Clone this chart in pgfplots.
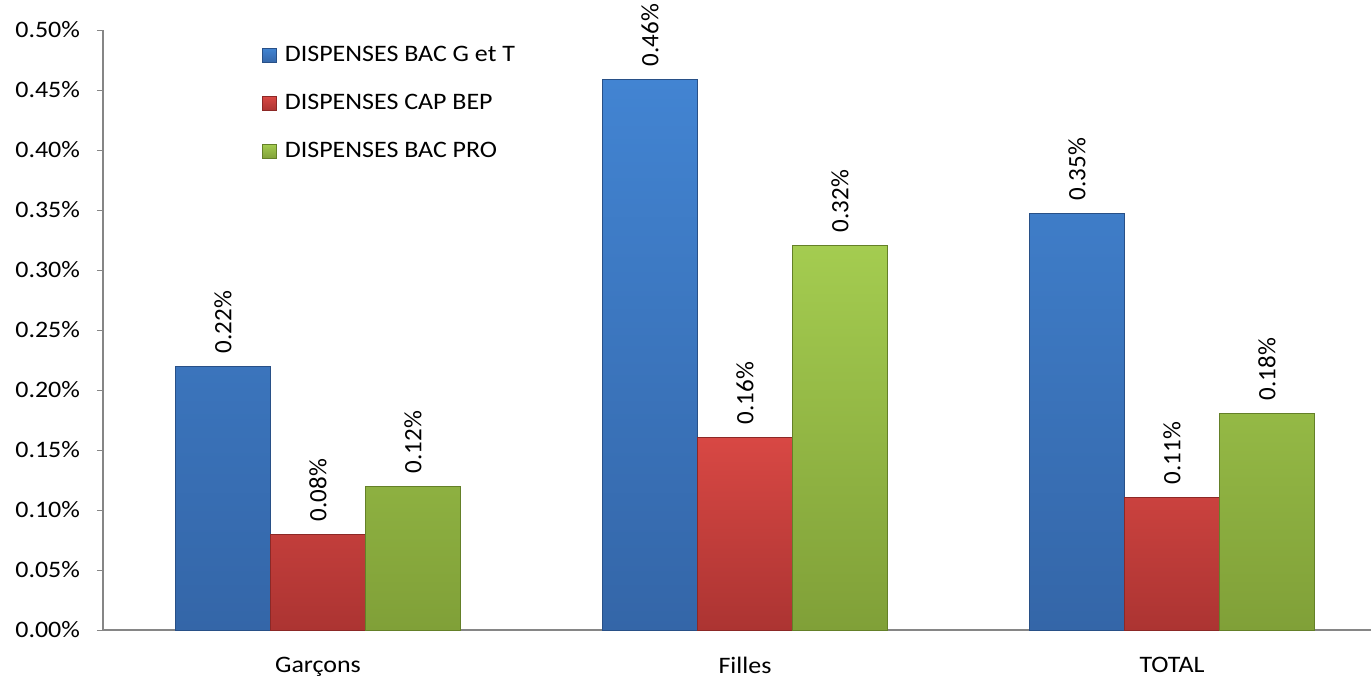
\documentclass[border=0pt]{standalone}
\usepackage{pgfplots}
\pgfplotsset{compat=1.18}
\usepackage{fontspec}
\setmainfont{Carlito}[FakeStretch=1.1]
\newfontfamily\rotfont{Carlito}
\definecolor{bluetop}{RGB}{66,132,210}
\definecolor{bluebot}{RGB}{52,102,168}
\definecolor{blueedge}{RGB}{40,80,135}
\definecolor{redtop}{RGB}{216,72,68}
\definecolor{redbot}{RGB}{172,52,50}
\definecolor{rededge}{RGB}{140,40,38}
\definecolor{greentop}{RGB}{164,204,80}
\definecolor{greenbot}{RGB}{128,160,56}
\definecolor{greenedge}{RGB}{100,128,40}
\definecolor{axgray}{RGB}{134,134,134}
\begin{document}
\begin{tikzpicture}
\useasboundingbox (-51.5pt,-23.5pt) rectangle (634pt,315pt);
\begin{axis}[
  scale only axis,
  width=634pt, height=300pt,
  ybar=0pt,
  bar width=0.2225,
  xmin=-0.5035, xmax=2.466,
  ymin=0, ymax=0.5,
  xtick={0,1,2},
  xticklabels={Garçons,Filles,TOTAL},
  major x tick style={draw=none},
  extra x ticks={0.5,1.5},
  extra x tick labels={},
  extra x tick style={major tick length=3.5pt, tick style={draw=axgray}},
  ytick={0,0.05,...,0.5},
  yticklabel={\pgfmathprintnumber[fixed,fixed zerofill,precision=2]{\tick}\%},
  /pgf/number format/assume math mode=true,
  tick align=outside,
  major tick length=3pt,
  ytick style={draw=axgray},
  axis x line*=bottom,
  axis y line*=left,
  axis line style={draw=axgray, line width=0.8pt},
  tick label style={font=\fontsize{11.8}{14}\selectfont, text=black},
  xticklabel style={yshift=-7pt},
  yticklabel style={xshift=-5pt},
  y axis line style={-},
  x axis line style={-},
  nodes near coords={\pgfmathprintnumber[fixed,fixed zerofill,precision=2]{\pgfplotspointmeta}\%},
  nodes near coords style={rotate=90, anchor=west, font=\rotfont\fontsize{12.5}{14}\selectfont, text=black, xshift=3pt},
  legend style={at={(0.125,0.98)}, anchor=north west, draw=none, fill=none,
    font=\fontsize{11.8}{14}\selectfont, row sep=10.8pt, inner sep=0pt,
    legend cell align=left, nodes={inner xsep=4pt}},
  legend image code/.code={\fill[#1] (0pt,-3.6pt) rectangle (7.2pt,3.6pt);},
  clip=false,
]
\addplot[top color=bluetop, bottom color=bluebot, draw=blueedge, line width=0.3pt] coordinates {(0,0.22) (1,0.459) (2,0.3475)};
\addlegendentry{DISPENSES BAC G et T}
\addplot[top color=redtop, bottom color=redbot, draw=rededge, line width=0.3pt] coordinates {(0,0.08) (1,0.1608) (2,0.1108)};
\addlegendentry{DISPENSES CAP BEP}
\addplot[top color=greentop, bottom color=greenbot, draw=greenedge, line width=0.3pt] coordinates {(0,0.12) (1,0.3208) (2,0.1808)};
\addlegendentry{DISPENSES BAC PRO}
\end{axis}
\end{tikzpicture}
\end{document}
